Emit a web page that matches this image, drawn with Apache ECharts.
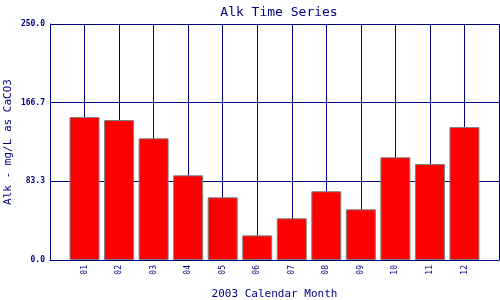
<!DOCTYPE html>
<html>
<head>
<meta charset="utf-8">
<script src="https://cdn.jsdelivr.net/npm/echarts@6/dist/echarts.min.js"></script>
<style>html,body{margin:0;padding:0;background:#fff}#c{width:500px;height:300px}</style>
</head>
<body>
<div id="c"></div>
<script>
var months = ['01','02','03','04','05','06','07','08','09','10','11','12'];
var alk = [151.5, 148.3, 128.9, 89.7, 66.4, 26.1, 44.2, 72.8, 53.7, 108.8, 101.7, 140.9];
var yTicks = [0, 83.3, 166.7, 250.0];
var title = 'Alk Time Series';
var xName = '2003 Calendar Month';
var yName = 'Alk - mg/L as CaCO3';

var cats = [''].concat(months).concat(['']);
var vals = [null].concat(alk).concat([null]);
var navy = '#000080';
var mono = 'DejaVu Sans Mono';

var chart = echarts.init(document.getElementById('c'), null, {renderer: 'canvas'});
chart.setOption({
  animation: false,
  backgroundColor: '#fff',
  title: {
    text: title, left: 274, top: 1, textAlign: 'center',
    textStyle: {fontFamily: mono, fontSize: 13, fontWeight: 'normal', color: navy}
  },
  grid: {left: 50, right: 1, top: 24, bottom: 40, containLabel: false, outerBoundsMode: 'none'},
  xAxis: {
    type: 'category', data: cats, boundaryGap: false,
    name: xName, nameLocation: 'middle', nameGap: 29, nameMoveOverlap: false,
    nameTextStyle: {fontFamily: mono, fontSize: 11, color: navy},
    axisLine: {show: true, lineStyle: {color: navy, width: 1}},
    axisTick: {show: false},
    axisLabel: {rotate: 90, interval: 0, margin: 5, fontFamily: mono, fontSize: 8, color: navy},
    splitLine: {show: true, interval: 0, lineStyle: {color: navy, width: 1}}
  },
  yAxis: {
    type: 'value', min: 0, max: 250, interval: 250 / 3,
    name: yName, nameLocation: 'middle', nameGap: 36, nameMoveOverlap: false,
    nameTextStyle: {fontFamily: mono, fontSize: 11, color: navy},
    axisLine: {show: true, lineStyle: {color: navy, width: 1}},
    axisTick: {show: false},
    axisLabel: {
      margin: 5, fontFamily: mono, fontSize: 8, fontWeight: 'bold', color: navy,
      formatter: function (v) {
        var i = Math.round(v / (250 / 3));
        return yTicks[i] !== undefined ? yTicks[i].toFixed(1) : '';
      }
    },
    splitLine: {show: true, lineStyle: {color: navy, width: 1}}
  },
  series: [{
    type: 'bar', data: vals, barWidth: 30,
    itemStyle: {color: '#ff0000', borderColor: '#808080', borderWidth: 1}
  }]
});
</script>
</body>
</html>
